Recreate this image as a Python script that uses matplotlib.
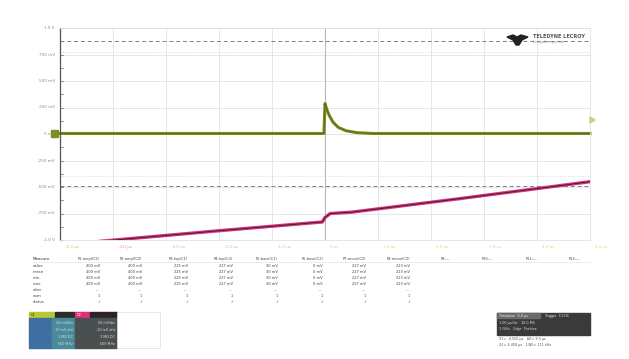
import matplotlib.pyplot as plt
from matplotlib.patches import Rectangle, Polygon

# screen in divisions: 10 horizontal, 8 vertical
div_labels_y = ["1.0 V", "750 mV", "500 mV", "250 mV", "0 mV", "-250 mV", "-500 mV", "-750 mV", "-1.0 V"]
div_labels_x = ["-5.0 µs", "-4.0 µs", "-3.0 µs", "-2.0 µs", "-1.0 µs", "0 µs",
                "1.0 µs", "2.0 µs", "3.0 µs", "4.0 µs", "5.0 µs"]
xlab_colors = ["#b5c96a", "#f08ab0", "#f0b08a", "#9ad29a", "#9ad2b8", "#d8d87a",
               "#d8d87a", "#d8d87a", "#d8d87a", "#d8d87a", "#d8d87a"]

# C1 (yellow-green) trace
c1_t = [-5.1, -0.1, -0.02, 0.0, 0.03, 0.08, 0.15, 0.25, 0.4, 0.6, 0.9, 5.0]
c1_v = [0.02, 0.02, 0.02, 1.15, 0.95, 0.7, 0.45, 0.25, 0.12, 0.05, 0.02, 0.02]

# C2 (magenta) trace
c2_t = [-4.25, -2.0, -0.05, 0.0, 0.1, 0.5, 2.5, 5.0]
c2_v = [-4.05, -3.65, -3.32, -3.15, -3.0, -2.95, -2.45, -1.8]

# cursor levels
cur_dash = [3.5, -1.95]
cur_dot = [3.1, -1.6]

# measurement table
meas_rows = ["value", "mean", "min", "max", "sdev", "num", "status"]
meas_hdr = ["P1:ampl(C1)", "P2:ampl(C2)", "P3:top(C1)", "P4:top(C2)", "P5:base(C1)",
            "P6:base(C2)", "P7:mean(C2)", "P8:mean(C2)", "P9:---", "P10:---", "P11:---", "P12:---"]
meas_vals = [["400 mV", "400 mV", "225 mV", "227 mV", "30 mV", "0 mV", "227 mV", "223 mV"],
             ["400 mV", "400 mV", "225 mV", "227 mV", "30 mV", "0 mV", "227 mV", "223 mV"],
             ["400 mV", "400 mV", "225 mV", "227 mV", "30 mV", "0 mV", "227 mV", "223 mV"],
             ["400 mV", "400 mV", "225 mV", "227 mV", "30 mV", "0 mV", "227 mV", "223 mV"],
             ["---", "---", "---", "---", "---", "---", "---", "---"],
             ["1", "1", "1", "1", "1", "1", "1", "1"],
             ["✓", "✓", "✓", "✓", "✓", "✓", "✓", "✓"]]

W, H = 629, 359
fig = plt.figure(figsize=(W / 100, H / 100), dpi=100)
fig.patch.set_facecolor("white")


def fx(px):
    return px / W


def fy(py):
    return 1 - py / H


ax = fig.add_axes([fx(60), fy(240), fx(590) - fx(60), fy(28) - fy(240)])
ax.set_xlim(-5, 5)
ax.set_ylim(-4, 4)
for s in ax.spines.values():
    s.set_color("#e0e0e0")
    s.set_linewidth(0.6)
ax.spines["left"].set_color("#555555")
ax.spines["left"].set_linewidth(0.9)
ax.set_xticks(range(-5, 6))
ax.set_yticks(range(-4, 5))
ax.set_xticklabels([])
ax.set_yticklabels([])
ax.tick_params(length=0)
ax.grid(True, color="#e2e2e2", lw=0.6)
ax.axvline(0, color="#b8b8b8", lw=0.8)

# minor ticks on left spine
for yy in [i / 2 for i in range(-8, 9)]:
    ax.plot([-5, -4.94], [yy, yy], color="#666666", lw=0.5, clip_on=False)

for y in cur_dash:
    ax.axhline(y, color="#808080", lw=0.7, ls=(0, (4, 3)))
for y in cur_dot:
    ax.axhline(y, color="#cccccc", lw=0.6, ls=(0, (1, 2)))

ax.plot(c1_t, c1_v, color="#7d8b22", lw=2.2, clip_on=False, solid_joinstyle="round")
ax.plot(c1_t, c1_v, color="#5c6614", lw=0.6, clip_on=False)
ax.plot(c2_t, c2_v, color="#e0307a", lw=2.4, clip_on=True)
ax.plot(c2_t, c2_v, color="#3a2533", lw=0.7, clip_on=True)

# left marker for C1
fig.patches.append(Polygon([[fx(51), fy(130)], [fx(58), fy(130)], [fx(58), fy(137)], [fx(51), fy(137)]],
                           closed=True, color="#7f8f1c", transform=fig.transFigure))
fig.patches.append(Polygon([[fx(590), fy(117)], [fx(595), fy(120)], [fx(590), fy(123)]],
                           closed=True, color="#c8d27a", transform=fig.transFigure))

for i, lab in enumerate(div_labels_y):
    fig.text(fx(55), fy(28 + i * 26.5), lab, fontsize=3, color="#8a8a8a", ha="right", va="center")
for i, lab in enumerate(div_labels_x):
    fig.text(fx(65 + i * 53), fy(247), lab, fontsize=3, color=xlab_colors[i], ha="left", va="center")

# logo (bird with spread wings)
fig.patches.append(Polygon([[fx(507), fy(37)], [fx(513), fy(35)], [fx(517), fy(37)], [fx(521), fy(35)],
                            [fx(528), fy(37)], [fx(522), fy(40)], [fx(519), fy(45)], [fx(516), fy(45)],
                            [fx(513), fy(40)]], closed=True, color="#222222",
                           transform=fig.transFigure))
fig.text(fx(533), fy(37), "TELEDYNE LECROY", fontsize=3.6, color="#555555", va="center",
         fontweight="bold")
fig.text(fx(533), fy(42), "Everywhere you look", fontsize=2.2, color="#888888", va="center")

# measurement table
fig.text(fx(33), fy(259), "Measure", fontsize=3, color="#333333", va="center")
fig.add_artist(plt.Line2D([fx(33), fx(590)], [fy(262), fy(262)], color="#dddddd", lw=0.4))
col_x = [100, 142, 188, 233, 278, 323, 366, 410, 450, 493, 537, 580]
for j, h in enumerate(meas_hdr):
    fig.text(fx(col_x[j]), fy(259), h, fontsize=2.6, color="#444444", ha="right", va="center")
for i, r in enumerate(meas_rows):
    yy = fy(266 + i * 6)
    fig.text(fx(33), yy, r, fontsize=2.8, color="#444444", va="center")
    for j, v in enumerate(meas_vals[i]):
        fig.text(fx(col_x[j]), yy, v, fontsize=2.6, color="#444444", ha="right", va="center",
                 family=["DejaVu Sans"])

# channel descriptor boxes
def box(x0, y0, x1, y1, color, **kw):
    fig.patches.append(Rectangle((fx(x0), fy(y1)), fx(x1) - fx(x0), fy(y0) - fy(y1),
                                 color=color, transform=fig.transFigure, **kw))


box(29, 312, 55, 318, "#b8c834")
box(55, 312, 75, 318, "#2c2c2c")
box(29, 318, 52, 348, "#3f6fa0")
box(52, 318, 75, 348, "#4a8a9a")
box(75, 312, 90, 318, "#e0307a")
box(90, 312, 117, 318, "#2c2228")
box(75, 318, 117, 348, "#4a4f4f")
fig.patches.append(Rectangle((fx(117), fy(348)), fx(160) - fx(117), fy(312) - fy(348), facecolor="white",
                             edgecolor="#dddddd", lw=0.5, transform=fig.transFigure))
fig.text(fx(31), fy(315), "C1", fontsize=2.6, color="#222222", va="center")
fig.text(fx(77), fy(315), "C2", fontsize=2.6, color="white", va="center")
for k, t in enumerate(["50 mV/div", "-10 mV ofst", "1 MΩ DC", "500 MHz"]):
    fig.text(fx(73), fy(323 + k * 7), t, fontsize=2.4, color="#dddddd", ha="right", va="center")
    fig.text(fx(115), fy(323 + k * 7), t, fontsize=2.4, color="#dddddd", ha="right", va="center")

# timebase box
box(497, 313, 590, 335, "#3a3a3a")
box(497, 313, 540, 318, "#6a6a6a")
fig.text(fx(499), fy(316), "Timebase  0.0 µs", fontsize=2.4, color="#eeeeee", va="center")
fig.text(fx(545), fy(316), "Trigger  C1 DC", fontsize=2.4, color="#eeeeee", va="center")
fig.text(fx(499), fy(323), "1.00 µs/div   10.0 MS", fontsize=2.4, color="#dddddd", va="center")
fig.text(fx(499), fy(329), "1 GS/s   Edge  Positive", fontsize=2.4, color="#dddddd", va="center")
fig.text(fx(499), fy(339), "X1= -4.550 µs   ΔX= 9.0 µs", fontsize=2.4, color="#555555", va="center")
fig.text(fx(499), fy(345), "X2= 4.450 µs   1/ΔX= 111 kHz", fontsize=2.4, color="#555555", va="center")

fig.savefig("out.png", dpi=100, facecolor="white")
